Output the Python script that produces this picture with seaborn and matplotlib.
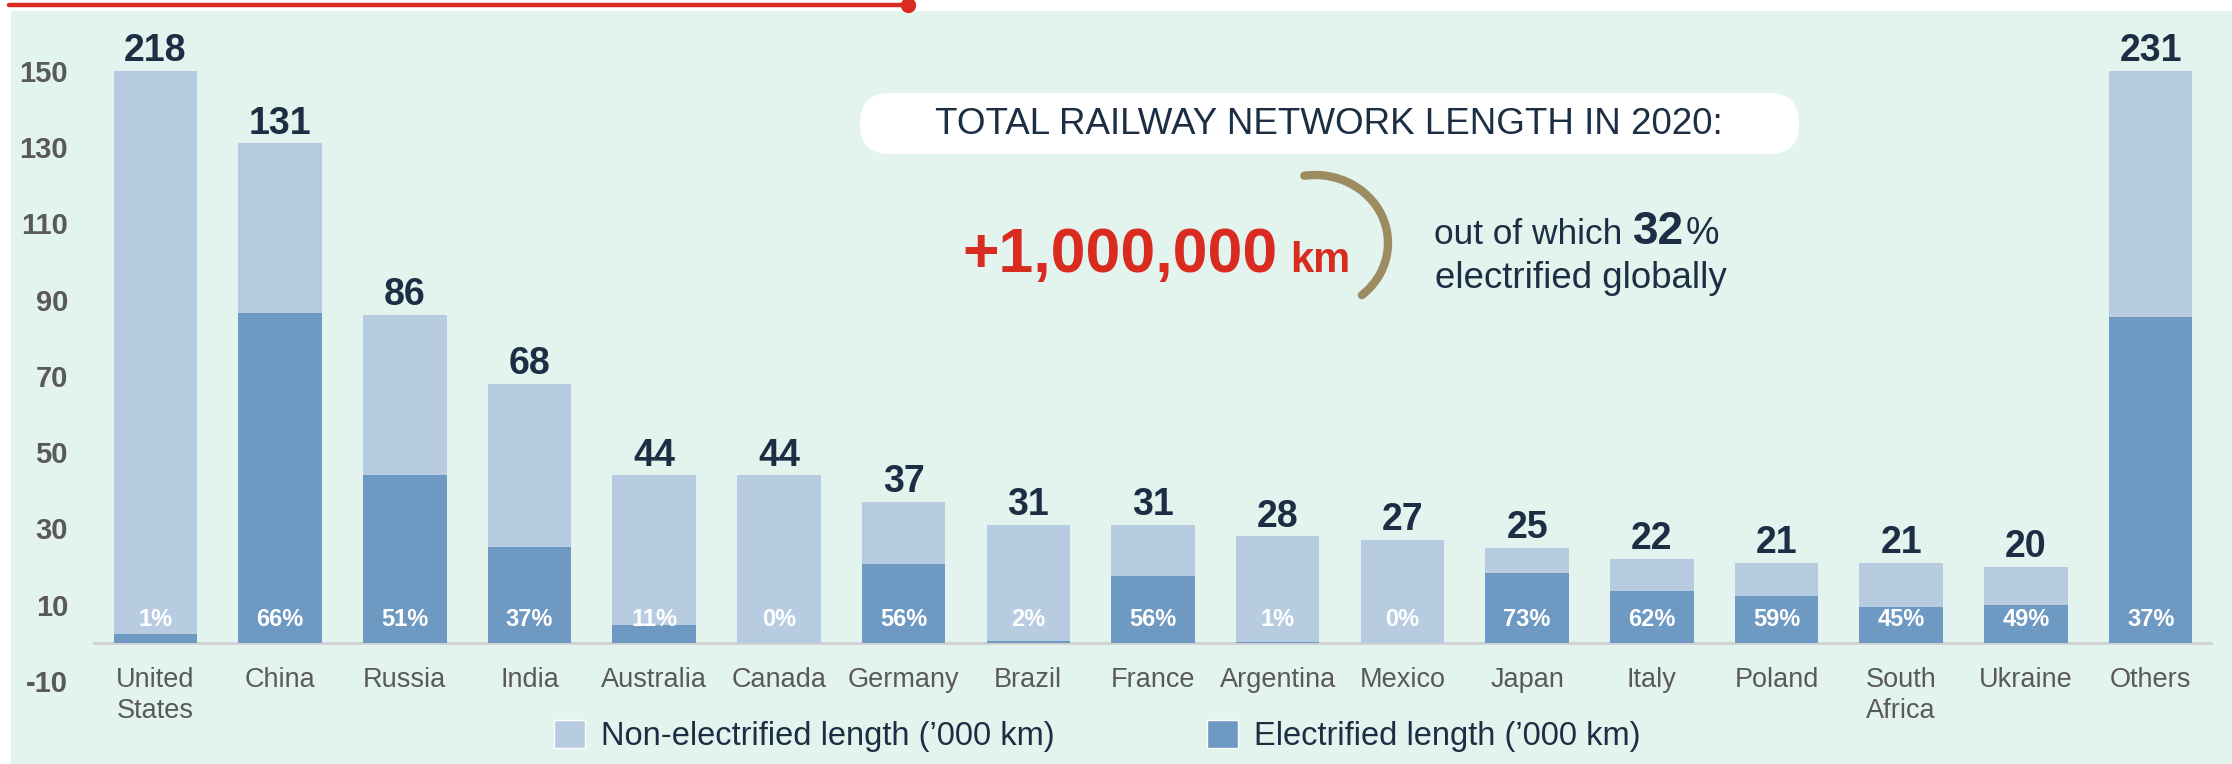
"""
Railway network length by country, 2020 - electrified vs non-electrified
"""

import numpy as np
import pandas as pd
import matplotlib.pyplot as plt
import seaborn as sns
from matplotlib.patches import Patch, Rectangle, FancyBboxPatch, Arc
from matplotlib.lines import Line2D

countries = ["United\nStates", "China", "Russia", "India", "Australia", "Canada",
             "Germany", "Brazil", "France", "Argentina", "Mexico", "Japan",
             "Italy", "Poland", "South\nAfrica", "Ukraine", "Others"]
total_km = [218, 131, 86, 68, 44, 44, 37, 31, 31, 28, 27, 25, 22, 21, 21, 20, 231]
electrified_km = [2.2, 86.5, 44, 25.2, 4.8, 0, 20.7, 0.6, 17.4, 0.3, 0, 18.3,
                  13.6, 12.4, 9.5, 9.8, 85.5]
electrified_pct = ["1%", "66%", "51%", "37%", "11%", "0%", "56%", "2%", "56%",
                   "1%", "0%", "73%", "62%", "59%", "45%", "49%", "37%"]
axis_cap = 150  # bars above this are cut off (broken axis look)

LIGHT = "#b7cce1"
DARK = "#6e99c3"
MINT = "#e3f3ee"
NAVY = "#1c2e44"
GREY = "#595959"
RED = "#d92b20"
TAN = "#9d8b62"

W, H = 2232, 764


def fx(px):
    return px / W


def fy(px):
    # pixel rows counted from the top
    return 1 - px / H


sns.set_theme(style="white")
plt.rcParams["font.family"] = ["Liberation Sans", "DejaVu Sans"]

df = pd.DataFrame({
    "country": countries,
    "shown_total": np.minimum(total_km, axis_cap),
    "electrified": electrified_km,
})

fig = plt.figure(figsize=(W / 100, H / 100), dpi=100)
fig.patches.append(Rectangle((fx(11), 0), 1, fy(11), transform=fig.transFigure,
                             facecolor=MINT, edgecolor="none", zorder=-10))
# red rule with a dot on the top edge
fig.add_artist(Line2D([fx(9), fx(908)], [fy(5)] * 2, color=RED, lw=3.2))
fig.add_artist(Line2D([fx(908)], [fy(5)], marker="o", color=RED, ms=10))

ax = fig.add_axes([fx(93), 83 / H, 2120 / W, 656 / H])
ax.set_facecolor("none")

sns.barplot(data=df, x="country", y="shown_total", color=LIGHT, width=0.67,
            saturation=1, linewidth=0, edgecolor="none", ax=ax)
sns.barplot(data=df, x="country", y="electrified", color=DARK, width=0.67,
            saturation=1, linewidth=0, edgecolor="none", ax=ax)

ax.set_xlim(-0.5, len(countries) - 0.5)
ax.set_ylim(-10, 162)
ax.axhline(0, color="#d0d0d0", lw=2, zorder=0)
sns.despine(ax=ax, left=True, bottom=True)
ax.set_xlabel("")
ax.set_ylabel("")
ax.set_xticks([])
ax.set_yticks(range(-10, 151, 20))
ax.set_yticklabels([str(v) for v in range(-10, 151, 20)], fontsize=21,
                   fontweight="bold", color=GREY)
ax.tick_params(axis="y", length=0, pad=18)

for i, name in enumerate(countries):
    shown = df["shown_total"].iloc[i]
    ax.text(i, shown + 0.4, str(total_km[i]), ha="center", va="bottom",
            fontsize=27, fontweight="bold", color=NAVY)
    ax.text(i, 6.0, electrified_pct[i], ha="center", va="center",
            fontsize=17, fontweight="bold", color="white")
    ax.text(i, -6.3, name, ha="center", va="top", fontsize=19.5, color=GREY,
            linespacing=1.25)

# callout: white pill with the headline figure
fig.patches.append(FancyBboxPatch((860, H - 154), 939, 61,
                                  boxstyle="round,pad=0,rounding_size=30",
                                  transform=None, facecolor="white",
                                  edgecolor="none"))
fig.text(fx(1329), fy(124), "TOTAL RAILWAY NETWORK LENGTH IN 2020:",
         ha="center", va="center", fontsize=26.5, color=NAVY)
fig.text(fx(962), fy(272), "+1,000,000", ha="left", va="baseline",
         fontsize=45, fontweight="bold", color=RED)
fig.text(fx(1290), fy(272), "km", ha="left", va="baseline",
         fontsize=30, fontweight="bold", color=RED)
# bracket arc, drawn in pixel space so the angles are true angles
fig.add_artist(Arc((1315, H - 243), 146, 136, theta1=-48, theta2=99,
                   transform=None, color=TAN, lw=6, capstyle="round"))
fig.text(fx(1434), fy(244), "out of which", ha="left", va="baseline",
         fontsize=25.4, color=NAVY)
fig.text(fx(1633), fy(244), "32", ha="left", va="baseline",
         fontsize=33, fontweight="bold", color=NAVY)
fig.text(fx(1686), fy(244), "%", ha="left", va="baseline",
         fontsize=27, color=NAVY)
fig.text(fx(1435), fy(288), "electrified globally", ha="left", va="baseline",
         fontsize=26.4, color=NAVY)

handles = [Patch(facecolor=LIGHT, label="Non-electrified length (’000 km)"),
           Patch(facecolor=DARK, label="Electrified length (’000 km)")]
fig.legend(handles=handles, loc="center", bbox_to_anchor=(0.4917, 0.037), ncol=2,
           frameon=False, fontsize=23.5, handlelength=0.95, handleheight=0.95,
           handletextpad=0.49, columnspacing=4.66, labelcolor=NAVY)

fig.savefig("out.png", dpi=100)
plt.close(fig)
